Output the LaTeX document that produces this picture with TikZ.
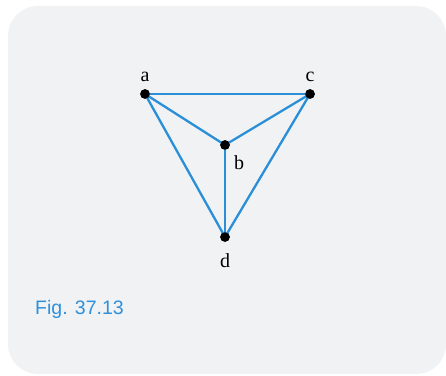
\documentclass[tikz,border=0pt]{standalone}
\usepackage{fontspec}
\setmainfont{Liberation Serif}
\newfontfamily\figfont{Liberation Sans}
\definecolor{bgpanel}{HTML}{F0F2F4}
\definecolor{edgeblue}{HTML}{2B8FD8}
\definecolor{capblue}{HTML}{2E90DC}
\begin{document}
\begin{tikzpicture}[x=1pt,y=1pt,
  vertex/.style={circle,fill=black,inner sep=0pt,minimum size=9.5pt},
  edge/.style={draw=edgeblue,line width=2.3pt},
  lbl/.style={font=\fontsize{20}{22}\selectfont,inner sep=0pt}]
\useasboundingbox (0,0) rectangle (446,375);
\fill[white] (0,0) rectangle (446,375);
\fill[bgpanel,rounded corners=30pt] (8,1) rectangle (446,369);
\node[vertex] (a) at (145,281) {};
\node[vertex] (c) at (310,281) {};
\node[vertex] (b) at (225,230) {};
\node[vertex] (d) at (225,138) {};
\draw[edge] (a.center) -- (c.center);
\draw[edge] (a.center) -- (b.center);
\draw[edge] (c.center) -- (b.center);
\draw[edge] (b.center) -- (d.center);
\draw[edge] (a.center) -- (d.center);
\draw[edge] (c.center) -- (d.center);
\node[vertex] at (a) {};
\node[vertex] at (c) {};
\node[vertex] at (b) {};
\node[vertex] at (d) {};
\node[lbl] (la) at (145,298) {a};
\node[lbl] (lc) at (310,298) {c};
\node[lbl] (lb) at (239,212) {b};
\node[lbl] (ld) at (225,114) {d};
\node[anchor=base west,inner sep=0pt,text=capblue,font=\figfont\fontsize{19.5}{22}\selectfont] (fig) at (35,61) {Fig. 37.13};
\end{tikzpicture}
\end{document}
